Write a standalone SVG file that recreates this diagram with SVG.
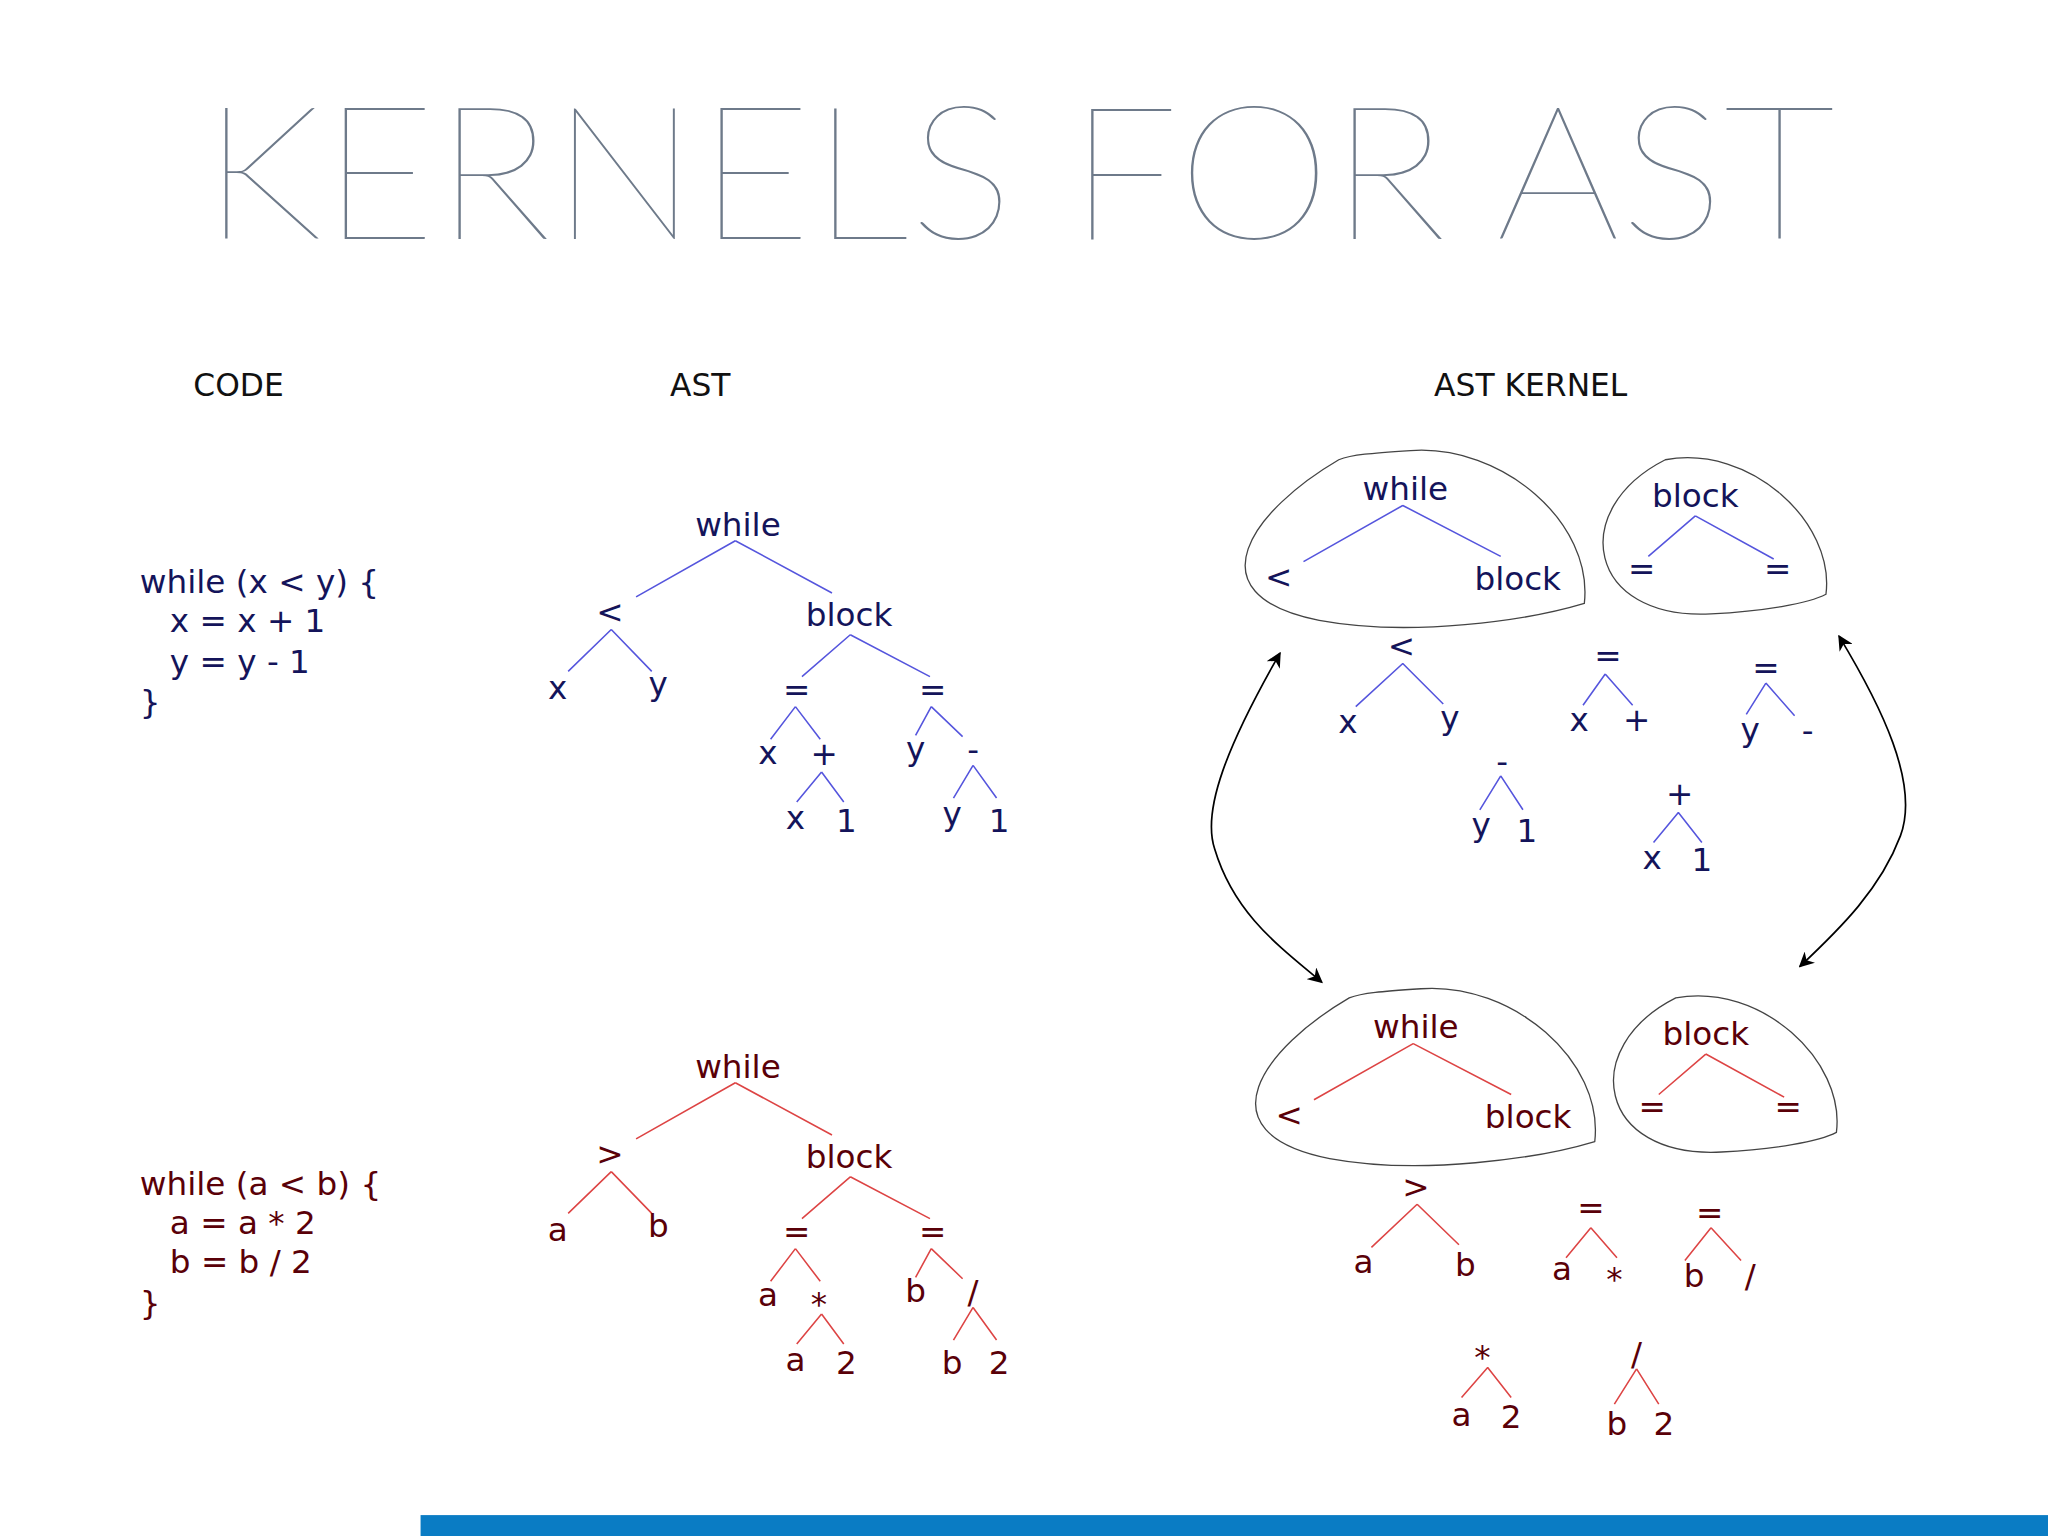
<svg xmlns="http://www.w3.org/2000/svg" width="2048" height="1536" viewBox="0 0 2048 1536">
<style>
.t{font-family:"DejaVu Sans",sans-serif;font-size:25px;text-anchor:middle}
.b{fill:#14145a}.r{fill:#5a0008}
.lb{stroke:#5555dd;stroke-width:1.2;fill:none}.lr{stroke:#dd4444;stroke-width:1.2;fill:none}
.h{font-family:"DejaVu Sans",sans-serif;font-size:24px;fill:#111}
.c{font-family:"DejaVu Sans",sans-serif;font-size:25px}
.blob{fill:none;stroke:#444;stroke-width:1}
</style>
<defs><marker id="ah" viewBox="0 0 10 10" refX="9" refY="5" markerWidth="9" markerHeight="9" orient="auto-start-reverse"><path d="M0,0 L10,5 L0,10 L3,5Z" fill="#000"/></marker></defs>
<rect width="2048" height="1536" fill="#fff"/>
<g transform="scale(1.30612)">
<text x="780" y="183" font-family="Lato,'Open Sans',sans-serif" font-weight="100" font-size="143" fill="#6e7a8a" text-anchor="middle" textLength="1250" lengthAdjust="spacingAndGlyphs">KERNELS FOR AST</text>
<text class="h" x="148" y="303">CODE</text>
<text class="h" x="513" y="303">AST</text>
<text class="h" x="1098" y="303">AST KERNEL</text>
<g id="code1" class="c b"><text x="107" y="454">while (x &lt; y) {</text><text x="130" y="484">x = x + 1</text><text x="130" y="515">y = y - 1</text><text x="107" y="546">}</text></g>
<g id="code2" class="c r"><text x="107" y="915">while (a &lt; b) {</text><text x="130" y="945">a = a * 2</text><text x="130" y="975">b = b / 2</text><text x="107" y="1006">}</text></g>
<g id="ast1" class="t b">
<g class="lb"><path d="M563,414L487,457M563,414L637,454M468,482L435,514M468,482L499,514M651,486L614,518M651,486L712,518M609,541L590,566M609,541L628,566M629,591L610,614M629,591L646,614M713,541L701,563M713,541L737,564M745,586L730,611M745,586L763,611"/></g>
<text x="565" y="410">while</text><text x="467" y="477">&lt;</text><text x="650" y="479">block</text><text x="427" y="535">x</text><text x="504" y="532">y</text><text x="610" y="537">=</text><text x="714" y="537">=</text><text x="588" y="585">x</text><text x="631" y="586">+</text><text x="609" y="635">x</text><text x="648" y="637">1</text><text x="701" y="582">y</text><text x="745" y="583">-</text><text x="729" y="632">y</text><text x="765" y="637">1</text>
</g>
<g id="ast2" class="t r" transform="translate(0,415)">
<g class="lr"><path d="M563,414L487,457M563,414L637,454M468,482L435,514M468,482L499,514M651,486L614,518M651,486L712,518M609,541L590,566M609,541L628,566M629,591L610,614M629,591L646,614M713,541L701,563M713,541L737,564M745,586L730,611M745,586L763,611"/></g>
<text x="565" y="410">while</text><text x="467" y="477">&gt;</text><text x="650" y="479">block</text><text x="427" y="535">a</text><text x="504" y="532">b</text><text x="610" y="537">=</text><text x="714" y="537">=</text><text x="588" y="585">a</text><text x="627" y="592">*</text><text x="609" y="635">a</text><text x="648" y="637">2</text><text x="701" y="582">b</text><text x="745" y="583">/</text><text x="729" y="637">b</text><text x="765" y="637">2</text>
</g>
<g id="k1" class="t b">
<path class="blob" d="M1025,352 C960,390 910,455 1010,475 C1080,488 1170,475 1213,462 C1220,400 1150,340 1080,345 C1050,347 1035,348 1025,352Z"/>
<path class="blob" d="M1275,352 C1200,390 1215,475 1310,470 C1350,468 1385,462 1398,455 C1405,400 1340,340 1275,352Z"/>
<g class="lb"><path d="M1074,387L998,430M1074,387L1149,426M1298,395L1262,426M1298,395L1358,428"/></g>
<text x="1076" y="383">while</text><text x="979" y="450">&lt;</text><text x="1162" y="452">block</text><text x="1298" y="388">block</text><text x="1257" y="444">=</text><text x="1361" y="444">=</text>
</g>
<g id="k2" class="t r" transform="translate(8,412)">
<path class="blob" d="M1025,352 C960,390 910,455 1010,475 C1080,488 1170,475 1213,462 C1220,400 1150,340 1080,345 C1050,347 1035,348 1025,352Z"/>
<path class="blob" d="M1275,352 C1200,390 1215,475 1310,470 C1350,468 1385,462 1398,455 C1405,400 1340,340 1275,352Z"/>
<g class="lr"><path d="M1074,387L998,430M1074,387L1149,426M1298,395L1262,426M1298,395L1358,428"/></g>
<text x="1076" y="383">while</text><text x="979" y="450">&lt;</text><text x="1162" y="452">block</text><text x="1298" y="388">block</text><text x="1257" y="444">=</text><text x="1361" y="444">=</text>
</g>
<g id="kb" class="t b">
<g class="lb"><path d="M1074,508L1038,541M1074,508L1105,539M1229,516L1212,540M1229,516L1250,540M1352,523L1337,547M1352,523L1374,548M1149,594L1133,620M1149,594L1166,620M1285,622L1266,645M1285,622L1303,645"/></g>
<text x="1073" y="503">&lt;</text><text x="1032" y="561">x</text><text x="1110" y="558">y</text><text x="1231" y="511">=</text><text x="1209" y="560">x</text><text x="1253" y="560">+</text><text x="1352" y="520">=</text><text x="1340" y="567">y</text><text x="1384" y="568">-</text><text x="1150" y="592">-</text><text x="1134" y="640">y</text><text x="1169" y="645">1</text><text x="1286" y="616">+</text><text x="1265" y="665">x</text><text x="1303" y="667">1</text>
</g>
<g id="kr" class="t r">
<g class="lr"><path d="M1085,922L1050,955M1085,922L1117,953M1218,940L1199,963M1218,940L1238,963M1310,940L1290,965M1310,940L1333,965M1139,1047L1119,1070M1139,1047L1157,1070M1253,1048L1236,1075M1253,1048L1270,1075"/></g>
<text x="1084" y="917">&gt;</text><text x="1044" y="975">a</text><text x="1122" y="977">b</text><text x="1218" y="933">=</text><text x="1196" y="980">a</text><text x="1236" y="988">*</text><text x="1309" y="937">=</text><text x="1297" y="985">b</text><text x="1340" y="985">/</text><text x="1135" y="1047">*</text><text x="1119" y="1092">a</text><text x="1157" y="1093">2</text><text x="1253" y="1045">/</text><text x="1238" y="1099">b</text><text x="1274" y="1099">2</text>
</g>
<g id="connectors" fill="none" stroke="#000" stroke-width="1.3">
<path d="M980,500 C940,570 920,620 930,650 C945,700 980,725 1012,752" marker-start="url(#ah)" marker-end="url(#ah)"/>
<path d="M1408,487 C1440,540 1470,600 1455,640 C1440,680 1410,710 1378,740" marker-start="url(#ah)" marker-end="url(#ah)"/>
</g>
<rect x="322" y="1160" width="1246" height="16" fill="#0a7cc4"/>
</g>
</svg>
